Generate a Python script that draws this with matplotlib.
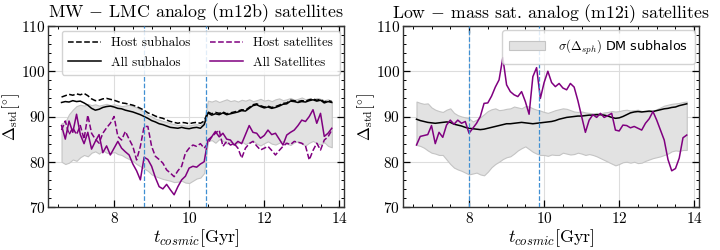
import numpy as np
import matplotlib
matplotlib.use("Agg")
import matplotlib.pyplot as plt
from matplotlib.ticker import MultipleLocator

plt.rcParams['font.family'] = 'serif'
plt.rcParams['font.serif'] = ['cmr10', 'DejaVu Serif']
plt.rcParams['mathtext.fontset'] = 'cm'
plt.rcParams['axes.unicode_minus'] = False
plt.rcParams['axes.formatter.use_mathtext'] = True

# time grid [Gyr]
t_cosmic = np.linspace(6.6, 13.8, 73)

# ---------------- Left panel: MW-LMC analog (m12b) ----------------
host_sub_L = [94.3, 94.6, 94.9, 94.7, 95.0, 94.8, 95.1, 94.6, 93.9, 93.5,
              93.6, 93.9, 94.0, 93.8, 93.6, 93.3, 93.0, 92.9, 92.7, 92.5,
              92.2, 91.8, 91.4, 90.8, 90.5, 90.1, 89.8, 89.6, 89.2, 88.9,
              88.7, 88.5, 88.7, 88.6, 88.4, 88.6, 88.7, 88.5, 89.0, 91.0,
              90.6, 90.9, 90.7, 91.0, 90.6, 90.8, 91.0, 91.2, 91.5, 91.4,
              92.0, 92.6, 92.8, 92.4, 92.1, 92.3, 92.0, 92.2, 92.5, 92.9,
              93.0, 93.6, 93.5, 93.3, 93.5, 93.4, 93.7, 93.9, 93.6, 93.8,
              93.2, 93.5, 93.3]
all_sub_L = [93.1, 93.3, 93.2, 93.5, 93.3, 93.4, 93.0, 92.5, 91.8, 91.4,
             91.6, 92.0, 92.2, 92.3, 92.1, 91.8, 91.7, 91.4, 91.2, 91.0,
             90.7, 90.4, 90.0, 89.6, 89.1, 88.8, 88.4, 88.2, 87.9, 87.6,
             87.5, 87.4, 87.6, 87.4, 87.3, 87.5, 87.6, 87.4, 88.2, 90.8,
             90.3, 90.6, 90.4, 90.8, 90.4, 90.6, 90.8, 91.0, 91.3, 91.2,
             91.8, 92.4, 92.6, 92.2, 91.9, 92.1, 91.8, 92.0, 92.3, 92.7,
             92.8, 93.4, 93.3, 93.1, 93.3, 93.2, 93.5, 93.7, 93.4, 93.6,
             93.0, 93.3, 93.1]
host_sat_L = [87.0, 89.0, 86.0, 87.5, 86.0, 88.0, 85.0, 90.3, 86.3, 85.0,
              84.1, 86.3, 87.5, 88.5, 90.0, 85.6, 84.8, 86.7, 85.0, 83.4,
              80.4, 83.4, 87.8, 87.8, 83.4, 81.2, 80.5, 79.7, 78.2, 77.5,
              76.7, 78.0, 79.0, 81.9, 83.0, 83.7, 83.4, 84.0, 83.0, 84.1,
              85.5, 86.3, 87.0, 83.4, 84.5, 83.7, 84.0, 83.0, 80.8, 83.0,
              84.0, 84.5, 83.5, 82.6, 83.0, 83.4, 82.5, 81.5, 82.5, 83.4,
              84.1, 83.8, 84.5, 84.3, 84.1, 83.5, 80.4, 82.5, 84.1, 82.6,
              84.8, 85.5, 87.0]
all_sat_L = [88.0, 85.0, 89.0, 86.5, 90.5, 86.0, 84.0, 86.5, 82.8, 84.5,
             86.0, 82.0, 83.5, 81.5, 83.0, 84.5, 83.0, 82.2, 81.5, 79.5,
             78.0, 76.0, 81.0, 80.5, 79.0, 76.5, 74.5, 74.0, 75.0, 73.8,
             72.7, 74.5, 76.0, 76.8, 78.6, 79.0, 78.8, 79.5, 80.0, 84.8,
             85.5, 86.7, 85.5, 86.3, 85.0, 84.8, 83.7, 84.5, 84.0, 86.0,
             88.0, 86.5, 86.3, 85.2, 85.8, 87.0, 86.0, 86.3, 85.0, 83.7,
             85.9, 86.5, 87.0, 88.0, 89.2, 88.9, 90.0, 91.5, 88.5, 90.7,
             85.6, 86.3, 87.4]
band_hi_L = [88.5, 88.8, 90.5, 91.5, 92.3, 92.6, 92.4, 92.8, 92.5, 92.7,
             92.4, 92.6, 92.8, 92.5, 92.7, 92.5, 92.3, 92.4, 92.6, 92.3,
             92.0, 91.5, 91.0, 90.3, 90.0, 89.5, 89.3, 89.0, 88.8, 88.5,
             88.3, 88.1, 88.2, 88.0, 88.0, 88.2, 88.3, 88.1, 89.0, 93.5,
             93.3, 93.6, 93.2, 93.5, 93.8, 93.4, 93.6, 93.3, 93.7, 93.5,
             93.8, 93.4, 93.6, 93.9, 93.5, 93.7, 93.4, 93.8, 94.0, 93.6,
             93.8, 94.1, 93.7, 93.9, 94.2, 93.8, 94.0, 93.7, 94.1, 93.9,
             93.6, 93.8, 93.4]
band_lo_L = [80.0, 79.5, 79.8, 80.5, 80.2, 81.0, 81.5, 81.2, 82.0, 82.3,
             81.8, 82.5, 82.0, 81.8, 82.2, 81.7, 81.5, 81.0, 80.6, 80.2,
             79.5, 79.0, 78.5, 78.0, 77.2, 76.8, 76.5, 76.2, 76.0, 75.8,
             75.5, 75.6, 75.8, 75.4, 75.3, 75.8, 76.3, 76.5, 77.5, 84.5,
             84.8, 84.2, 85.0, 84.6, 84.0, 84.4, 83.8, 84.2, 84.5, 83.9,
             84.3, 84.7, 84.0, 83.6, 84.1, 84.5, 84.0, 83.8, 84.2, 84.6,
             84.0, 83.7, 84.3, 84.5, 84.0, 83.6, 84.2, 84.6, 84.1, 83.8,
             84.3, 83.5, 83.2]
vlines_L = [8.8, 10.44]

# ---------------- Right panel: low-mass sat. analog (m12i) ----------------
all_sub_R = [89.4, 89.1, 88.9, 88.7, 88.6, 88.5, 88.6, 88.7, 88.8, 88.7,
             88.3, 88.1, 87.9, 87.6, 87.4, 87.3, 87.2, 87.1, 87.2, 87.4,
             87.6, 87.8, 88.0, 88.2, 88.4, 88.4, 88.5, 88.6, 88.7, 88.6,
             88.5, 88.4, 88.5, 88.6, 88.7, 88.8, 88.9, 89.1, 89.4, 89.6,
             89.8, 89.9, 90.0, 90.1, 90.1, 90.2, 90.3, 90.3, 90.4, 90.4,
             90.3, 90.1, 89.8, 89.6, 89.7, 90.0, 90.4, 90.8, 91.0, 91.1,
             91.0, 91.1, 91.2, 91.1, 91.3, 91.5, 91.7, 91.8, 92.0, 92.1,
             92.4, 92.6, 92.8]
all_sat_R = [83.7, 85.6, 85.8, 86.0, 88.0, 84.0, 86.5, 85.4, 88.1, 89.2,
             88.3, 89.2, 88.5, 88.9, 86.3, 87.4, 88.5, 90.0, 92.9, 93.0,
             94.5, 96.5, 98.1, 103.0, 97.0, 95.5, 94.8, 94.4, 95.5, 93.3,
             90.5, 98.8, 100.8, 94.0, 97.5, 100.0, 97.5, 96.6, 97.3, 96.3,
             95.9, 97.3, 96.5, 93.5, 90.0, 86.5, 89.2, 90.4, 89.8, 90.7,
             89.8, 90.2, 90.7, 87.0, 86.8, 88.1, 88.0, 87.5, 87.8, 87.4,
             87.0, 88.5, 89.5, 91.1, 89.2, 87.0, 84.8, 80.5, 78.0, 78.5,
             80.8, 85.3, 85.9]
band_hi_R = [93.3, 93.0, 92.8, 92.9, 92.0, 91.5, 91.2, 91.0, 91.5, 91.8,
             90.8, 90.3, 90.0, 89.8, 89.6, 88.9, 89.3, 89.8, 90.5, 91.2,
             91.6, 91.8, 91.4, 91.5, 91.7, 91.8, 92.2, 92.0, 91.8, 92.3,
             92.2, 91.8, 91.5, 91.3, 91.0, 90.8, 91.1, 91.4, 91.6, 91.8,
             91.7, 91.4, 91.1, 91.0, 91.1, 90.9, 90.8, 90.7, 90.8, 90.7,
             90.9, 91.0, 91.2, 91.1, 91.2, 91.4, 91.5, 91.3, 91.4, 91.5,
             91.2, 91.1, 91.0, 91.3, 91.6, 92.0, 92.4, 92.6, 92.8, 92.9,
             93.0, 93.2, 93.3]
band_lo_R = [83.7, 83.5, 83.1, 82.5, 82.0, 81.8, 81.5, 81.5, 80.5, 79.5,
             78.7, 78.3, 78.0, 77.6, 77.2, 77.4, 77.6, 77.2, 77.0, 77.8,
             78.8, 79.5, 80.0, 80.6, 81.0, 81.2, 81.8, 82.5, 83.0, 83.4,
             82.8, 82.2, 81.8, 81.5, 81.5, 81.3, 81.6, 81.5, 81.5, 82.0,
             81.8, 81.6, 81.7, 82.0, 81.8, 81.5, 81.7, 81.5, 81.2, 80.8,
             80.4, 80.0, 79.6, 79.2, 79.5, 79.9, 80.0, 79.8, 80.0, 79.7,
             79.8, 80.2, 80.5, 80.8, 81.0, 81.2, 81.5, 81.8, 82.3, 82.5,
             82.4, 82.6, 82.6]
vlines_R = [8.0, 9.87]

titles = [r'MW $-$ LMC analog (m12b) satellites',
          r'Low $-$ mass sat. analog (m12i) satellites']

PURPLE = '#800080'
BAND_FC = '#e2e2e2'
BAND_EC = '#c4c4c4'
VCOL = '#3f8fd2'

fig = plt.figure(figsize=(7.2, 2.5), dpi=100)
axL = fig.add_axes([0.0667, 0.172, 0.4113, 0.724])
axR = fig.add_axes([0.5597, 0.172, 0.4113, 0.724])

def style(ax, title, tsize):
    ax.set_ylim(70, 110)
    ax.set_xlim(6.24, 14.13)
    ax.xaxis.set_major_locator(MultipleLocator(2))
    ax.xaxis.set_minor_locator(MultipleLocator(0.5))
    ax.yaxis.set_major_locator(MultipleLocator(10))
    ax.yaxis.set_minor_locator(MultipleLocator(2))
    ax.tick_params(which='both', direction='in', top=True, right=True,
                   labelsize=11)
    ax.tick_params(which='major', length=5, width=0.9)
    ax.tick_params(which='minor', length=2.5, width=0.7)
    ax.tick_params(axis='y', which='major', pad=2)
    ax.tick_params(axis='x', which='major', pad=3)
    ax.grid(True, which='major', color='#dddddd', lw=0.8)
    ax.set_axisbelow(True)
    ax.set_xlabel(r'$t_{cosmic}$[Gyr]', fontsize=13, labelpad=1)
    ax.set_ylabel(r'$\Delta_{\rm std}[^{\circ}]$', fontsize=12)
    ax.yaxis.set_label_coords(-0.088, 0.5)
    ax.set_title(title, fontsize=tsize, pad=6)
    for s in ax.spines.values():
        s.set_linewidth(1.0)
        s.set_color('#333333')

t = t_cosmic
# left
axL.fill_between(t, band_lo_L, band_hi_L, facecolor=BAND_FC, edgecolor=BAND_EC,
                 lw=0.8, zorder=1)
axL.plot(t, host_sub_L, color='black', ls='--', lw=1.1, label='Host subhalos', zorder=3)
axL.plot(t, all_sub_L, color='black', ls='-', lw=1.1, label='All subhalos', zorder=3)
axL.plot(t, host_sat_L, color=PURPLE, ls='--', lw=1.1, label='Host satellites', zorder=3)
axL.plot(t, all_sat_L, color=PURPLE, ls='-', lw=1.1, label='All Satellites', zorder=3)
for v in vlines_L:
    axL.axvline(v, color=VCOL, ls='--', lw=0.9, zorder=4)
style(axL, titles[0], 12.9)
axL.legend(loc='upper right', ncol=2, fontsize=9.4, frameon=True, fancybox=True,
           framealpha=0.85, edgecolor='#cccccc', handlelength=2.5,
           handletextpad=0.8, columnspacing=1.5, borderpad=0.5,
           labelspacing=0.55, borderaxespad=0.35)

# right
axR.fill_between(t, band_lo_R, band_hi_R, facecolor=BAND_FC, edgecolor=BAND_EC,
                 lw=0.8, zorder=1, label=r'$\sigma(\Delta_{sph})$ DM subhalos')
axR.plot(t, all_sub_R, color='black', ls='-', lw=1.1, zorder=3)
axR.plot(t, all_sat_R, color=PURPLE, ls='-', lw=1.1, zorder=3)
for v in vlines_R:
    axR.axvline(v, color=VCOL, ls='--', lw=0.9, zorder=4)
style(axR, titles[1], 12.8)
axR.legend(loc='upper right', frameon=True, fancybox=True,
           framealpha=0.85, edgecolor='#cccccc', handlelength=2.8,
           handletextpad=1.0, borderpad=0.55, borderaxespad=0.35,
           prop={'family': 'DejaVu Sans', 'size': 9.2})

fig.savefig('out.png', dpi=100)
